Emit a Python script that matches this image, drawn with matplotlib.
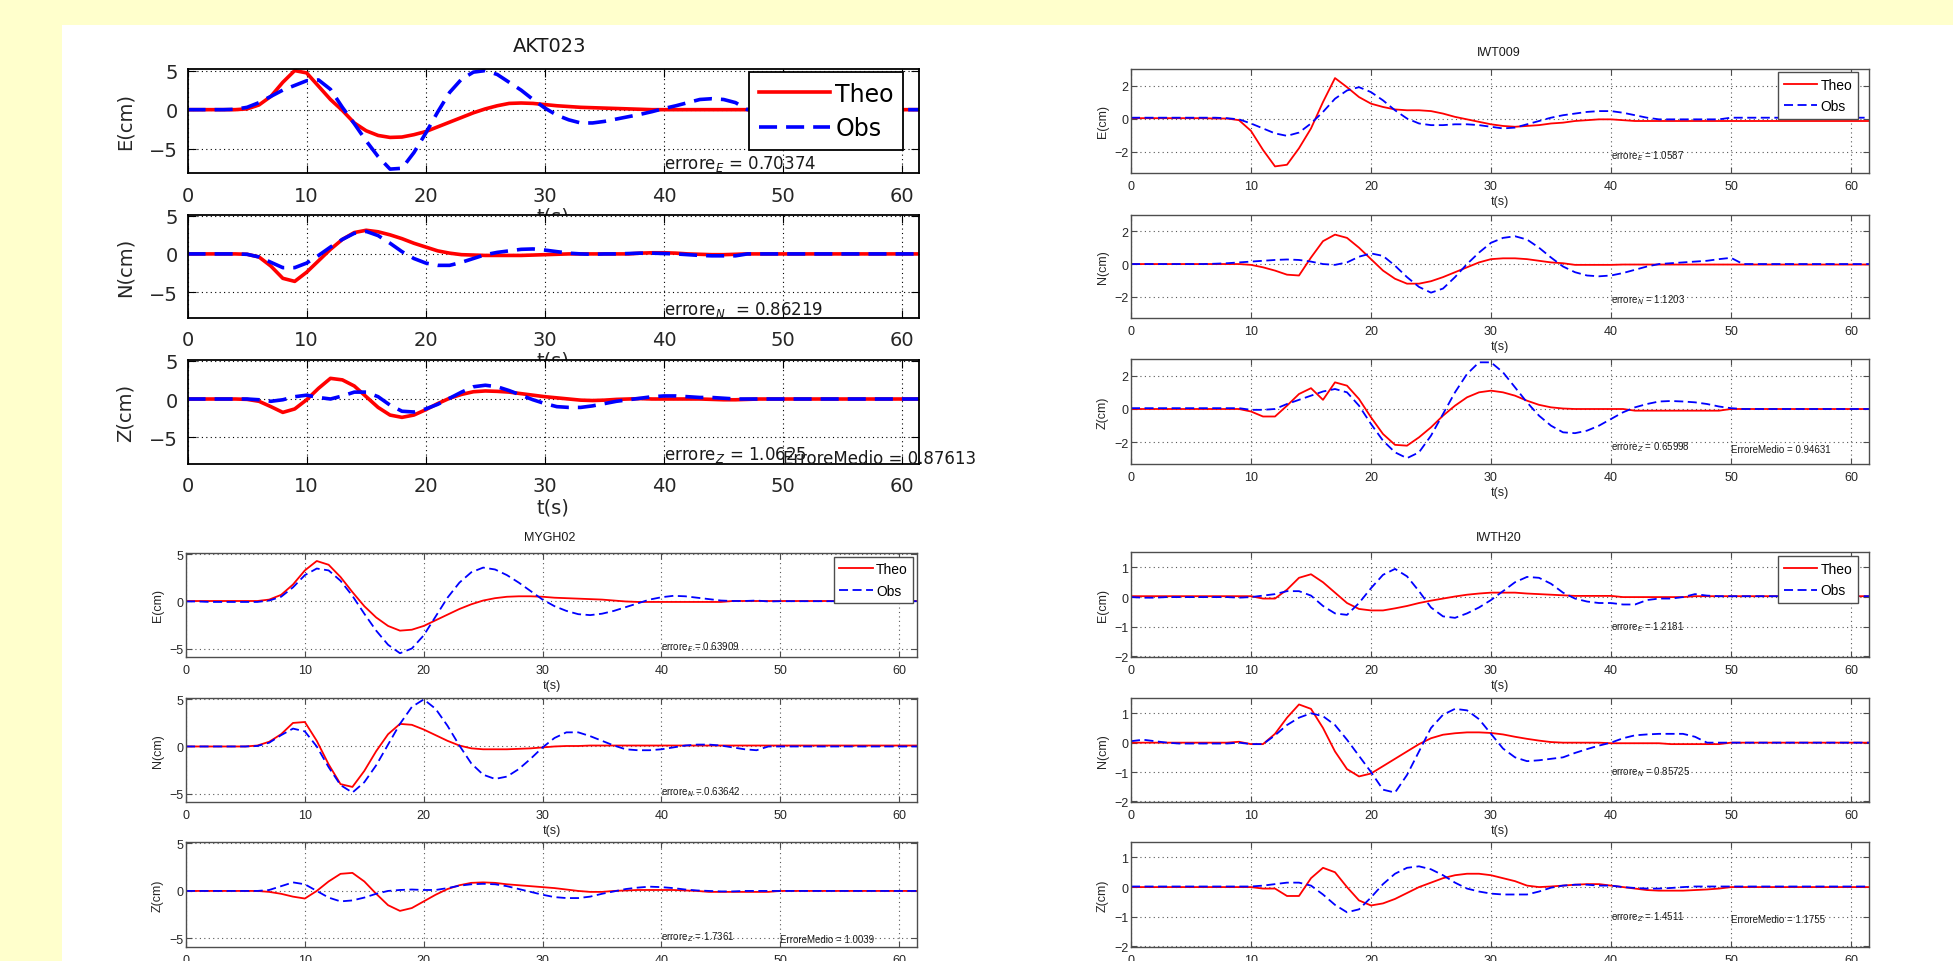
import numpy as np
import matplotlib.pyplot as plt
from matplotlib.patches import Rectangle

# time axis, one sample per second
t = np.arange(0, 63)

# ---- AKT023 ----
akt_e_theo = [0, 0, 0, 0, 0, 0.1, 0.6, 1.7, 3.5, 5.0,
              4.7, 3.0, 1.3, -0.1, -1.7, -2.7, -3.3, -3.55, -3.5, -3.2,
              -2.8, -2.2, -1.6, -1.0, -0.4, 0.1, 0.5, 0.8, 0.85, 0.8,
              0.65, 0.5, 0.4, 0.3, 0.25, 0.2, 0.15, 0.1, 0.05, 0] + [0] * 23
akt_e_obs = [0, 0, 0, 0, 0.05, 0.3, 0.9, 1.7, 2.5, 3.1,
             3.7, 3.8, 2.6, 0.3, -1.8, -4.0, -6.0, -7.6, -7.5, -5.5,
             -3.0, -0.3, 2.2, 3.9, 4.8, 5.0, 4.5, 3.5, 2.5, 1.3,
             0.2, -0.7, -1.3, -1.7, -1.7, -1.5, -1.2, -0.9, -0.6, -0.25,
             0.15, 0.5, 0.9, 1.3, 1.4, 1.3, 0.9, 0, 0, 0] + [0] * 13
akt_n_theo = [0, 0, 0, 0, 0, -0.05, -0.4, -1.6, -3.2, -3.6,
              -2.4, -0.9, 0.6, 1.9, 2.8, 3.1, 2.9, 2.5, 2.0, 1.4,
              0.9, 0.4, 0.1, -0.1, -0.15, -0.2, -0.2, -0.2, -0.2, -0.15,
              -0.1, -0.05, 0, 0, 0, 0, 0, 0, 0.1, 0.15,
              0.15, 0.1, 0, -0.05, -0.1, -0.1, -0.05, 0, 0, 0] + [0] * 13
akt_n_obs = [0, 0, 0, 0, 0, -0.05, -0.4, -1.1, -1.8, -1.8,
             -1.2, -0.2, 0.9, 1.9, 2.7, 2.95, 2.4, 1.4, 0.3, -0.6,
             -1.2, -1.5, -1.5, -1.1, -0.6, -0.1, 0.2, 0.4, 0.6, 0.65,
             0.5, 0.3, 0.1, 0, -0.05, 0, 0, 0.05, 0.1, 0.1,
             0.05, 0, -0.1, -0.2, -0.25, -0.25, -0.25, 0, 0, 0] + [0] * 13
akt_z_theo = [0, 0, 0, 0, 0, -0.05, -0.3, -1.0, -1.75, -1.3,
              -0.1, 1.4, 2.7, 2.5, 1.7, 0.3, -1.1, -2.1, -2.4, -2.1,
              -1.4, -0.6, 0.1, 0.6, 0.95, 1.05, 1.0, 0.9, 0.7, 0.5,
              0.3, 0.15, 0, -0.15, -0.2, -0.15, -0.05, 0, 0.05, 0,
              0, 0, 0, 0, -0.05, -0.1, -0.1, -0.05, 0, 0] + [0] * 13
akt_z_obs = [0, 0, 0, 0, 0, 0, -0.1, -0.3, -0.1, 0.3,
             0.5, 0.2, 0.0, 0.4, 0.9, 0.9, 0.3, -0.8, -1.6, -1.7,
             -1.3, -0.7, 0.1, 0.9, 1.6, 1.8, 1.6, 1.1, 0.5, -0.1,
             -0.6, -1.0, -1.1, -1.1, -0.9, -0.6, -0.3, -0.1, 0.1, 0.3,
             0.4, 0.4, 0.3, 0.2, 0.2, 0.1, 0, 0, 0, 0] + [0] * 13

# ---- IWT009 ----
iwt_e_theo = [0.02, 0.02, 0.02, 0.02, 0.02, 0.02, 0.02, 0.0, 0.0, -0.1,
              -0.75, -1.9, -2.9, -2.8, -1.8, -0.6, 1.0, 2.45, 1.9, 1.3,
              0.9, 0.7, 0.55, 0.5, 0.5, 0.45, 0.3, 0.1, -0.05, -0.2,
              -0.35, -0.45, -0.5, -0.45, -0.4, -0.3, -0.25, -0.15, -0.1, -0.05,
              -0.05, -0.1, -0.15, -0.15, -0.15, -0.15, -0.15, -0.15, -0.15, -0.15] + [-0.15] * 13
iwt_e_obs = [0.05, 0.05, 0.05, 0.05, 0.05, 0.05, 0.05, 0.05, 0.02, -0.05,
             -0.3, -0.6, -0.9, -1.05, -0.85, -0.3, 0.4, 1.2, 1.7, 1.9,
             1.6, 1.1, 0.5, 0.0, -0.3, -0.4, -0.4, -0.35, -0.35, -0.4,
             -0.5, -0.6, -0.55, -0.35, -0.15, 0.05, 0.2, 0.3, 0.4, 0.45,
             0.45, 0.35, 0.2, 0.05, -0.05, -0.05, -0.05, -0.05, -0.05, -0.05] + [0.05] * 13
iwt_n_theo = [0, 0, 0, 0, 0, 0, 0, 0, 0, 0,
              -0.05, -0.2, -0.4, -0.65, -0.7, 0.4, 1.4, 1.8, 1.6, 1.0,
              0.3, -0.4, -0.9, -1.2, -1.2, -1.05, -0.8, -0.5, -0.2, 0.1,
              0.3, 0.35, 0.35, 0.3, 0.2, 0.1, 0.05, -0.05, -0.05, -0.05,
              -0.05, -0.03, -0.03, -0.03, -0.03, -0.03, -0.03, -0.03, -0.03, -0.03] + [-0.03] * 13
iwt_n_obs = [0, 0, 0, 0, 0, 0, 0, 0.02, 0.05, 0.1,
             0.15, 0.2, 0.25, 0.28, 0.25, 0.15, 0.0, -0.05, 0.1, 0.45,
             0.65, 0.5, -0.1, -0.8, -1.4, -1.75, -1.5, -0.8, 0.0, 0.7,
             1.3, 1.6, 1.7, 1.5, 1.0, 0.4, -0.15, -0.5, -0.7, -0.75,
             -0.7, -0.55, -0.35, -0.15, 0.0, 0.05, 0.1, 0.15, 0.2, 0.3,
             0.38] + [0] * 12
iwt_z_theo = [0, 0, 0, 0, 0, 0, 0, 0, 0, 0,
              -0.15, -0.45, -0.45, 0.2, 0.9, 1.25, 0.55, 1.6, 1.4, 0.6,
              -0.5, -1.5, -2.15, -2.2, -1.7, -1.1, -0.4, 0.2, 0.7, 1.0,
              1.1, 1.0, 0.8, 0.5, 0.25, 0.1, 0.03, 0, 0, 0,
              0, 0, -0.1, -0.1, -0.1, -0.1, -0.1, -0.1, -0.1, -0.1] + [0] * 13
iwt_z_obs = [0.05, 0.05, 0.05, 0.05, 0.05, 0.05, 0.05, 0.05, 0.05, 0.05,
             -0.05, -0.05, 0.0, 0.3, 0.55, 0.8, 1.05, 1.2, 1.0, 0.2,
             -0.9, -1.9, -2.6, -2.95, -2.6, -1.6, -0.3, 1.0, 2.1, 2.8,
             2.8, 2.2, 1.3, 0.4, -0.4, -1.0, -1.4, -1.45, -1.3, -1.0,
             -0.6, -0.2, 0.1, 0.3, 0.45, 0.48, 0.45, 0.4, 0.3, 0.15,
             0.05] + [0] * 12

# ---- MYGH02 ----
myg_e_theo = [0.05, 0.05, 0.05, 0.05, 0.05, 0.05, 0.05, 0.2, 0.7, 1.8,
              3.3, 4.3, 3.9, 2.6, 1.0, -0.5, -1.7, -2.6, -3.1, -3.0,
              -2.6, -2.0, -1.4, -0.8, -0.3, 0.1, 0.35, 0.5, 0.55, 0.55,
              0.5, 0.4, 0.35, 0.3, 0.25, 0.2, 0.1, 0.0, -0.05, -0.05,
              -0.05, -0.05, -0.05, -0.05, -0.05, -0.05, 0.05, 0.05, 0.05, 0.05] + [0.05] * 13
myg_e_obs = [0, 0, -0.05, -0.05, -0.05, -0.05, -0.05, 0.1, 0.5, 1.5,
             2.8, 3.5, 3.3, 2.2, 0.6, -1.3, -3.1, -4.6, -5.5, -5.0,
             -3.6, -1.6, 0.4, 2.0, 3.1, 3.6, 3.4, 2.8, 2.0, 1.1,
             0.2, -0.5, -1.0, -1.35, -1.45, -1.3, -1.0, -0.6, -0.2, 0.2,
             0.45, 0.6, 0.55, 0.4, 0.25, 0.1, 0.05, 0.05, 0.1, 0.0] + [0.03] * 13
myg_n_theo = [0, 0, 0, 0, 0, 0, 0.1, 0.5, 1.3, 2.5,
              2.6, 0.6, -1.9, -4.0, -4.3, -2.6, -0.5, 1.3, 2.4, 2.3,
              1.8, 1.2, 0.6, 0.1, -0.2, -0.3, -0.3, -0.3, -0.25, -0.2,
              -0.1, 0, 0.05, 0.05, 0.1, 0.1, 0.1, 0.1, 0.1, 0.1] + [0.1] * 23
myg_n_obs = [0, 0, 0, 0, 0, 0, 0.05, 0.4, 1.2, 1.9,
             1.6, 0.0, -2.2, -4.1, -4.9, -3.8, -2.0, 0.2, 2.4, 4.2,
             5.0, 4.0, 2.2, 0.1, -1.8, -3.0, -3.45, -3.2, -2.4, -1.3,
             -0.1, 0.9, 1.5, 1.5, 1.1, 0.6, 0.1, -0.3, -0.4, -0.4,
             -0.3, -0.1, 0.1, 0.2, 0.2, 0.1, -0.1, -0.3, -0.4, 0.0] + [0] * 13
myg_z_theo = [0, 0, 0, 0, 0, 0, 0, -0.1, -0.3, -0.6,
              -0.8, 0.0, 1.0, 1.8, 1.9, 1.0, -0.3, -1.5, -2.1, -1.8,
              -1.1, -0.4, 0.2, 0.6, 0.85, 0.9, 0.85, 0.7, 0.6, 0.5,
              0.4, 0.3, 0.15, 0.0, -0.1, -0.1, 0.0, 0.05, 0.1, 0.1,
              0.1, 0.1, 0.05, 0, -0.1, -0.1, -0.1, -0.1, -0.1, -0.1] + [0] * 13
myg_z_obs = [0, 0, 0, 0, 0, 0, 0, 0.1, 0.5, 0.9,
             0.7, 0.0, -0.7, -1.1, -1.0, -0.7, -0.3, 0.0, 0.1, 0.15,
             0.1, 0.1, 0.3, 0.55, 0.7, 0.75, 0.7, 0.5, 0.2, -0.1,
             -0.4, -0.65, -0.75, -0.75, -0.6, -0.3, -0.05, 0.2, 0.35, 0.45,
             0.4, 0.3, 0.15, 0.05, 0.0, -0.05, -0.05, 0, 0, 0] + [0] * 13

# ---- IWTH20 ----
iwth_e_theo = [0.03, 0.03, 0.03, 0.03, 0.03, 0.03, 0.03, 0.03, 0.03, 0.03,
               0.03, -0.05, -0.05, 0.25, 0.65, 0.77, 0.5, 0.15, -0.2, -0.4,
               -0.45, -0.45, -0.38, -0.3, -0.2, -0.12, -0.05, 0.02, 0.08, 0.12,
               0.15, 0.15, 0.15, 0.12, 0.1, 0.08, 0.06, 0.04, 0.04, 0.04,
               0.04, 0, 0, 0, 0, 0, 0, 0.03, 0.03, 0.03] + [0.03] * 13
iwth_e_obs = [0.0, -0.02, -0.02, 0.0, 0.0, 0.0, 0.0, 0.0, 0.0, -0.02,
              0.0, 0.05, 0.1, 0.2, 0.2, 0.05, -0.3, -0.55, -0.6, -0.2,
              0.3, 0.75, 0.95, 0.7, 0.2, -0.35, -0.65, -0.7, -0.55, -0.35,
              -0.1, 0.2, 0.5, 0.68, 0.65, 0.45, 0.15, -0.05, -0.15, -0.2,
              -0.2, -0.25, -0.25, -0.1, -0.05, -0.05, 0.0, 0.1, 0.05, 0.03] + [0.03] * 13
iwth_n_theo = [0, 0, 0, 0, 0, 0, 0, 0, 0, 0.03,
               -0.05, -0.05, 0.3, 0.85, 1.3, 1.15, 0.5, -0.3, -0.9, -1.15,
               -1.05, -0.8, -0.55, -0.3, -0.05, 0.15, 0.27, 0.32, 0.35, 0.35,
               0.33, 0.28, 0.2, 0.13, 0.07, 0.02, 0, 0, 0, 0,
               -0.02, -0.02, -0.02, -0.02, -0.02, -0.05, -0.05, -0.05, -0.05, -0.05] + [0] * 13
iwth_n_obs = [0.05, 0.1, 0.05, 0.0, -0.03, -0.03, -0.03, -0.03, -0.03, 0.0,
              -0.05, -0.05, 0.25, 0.6, 0.85, 1.0, 0.9, 0.6, 0.1, -0.45,
              -1.0, -1.6, -1.7, -1.1, -0.3, 0.5, 0.95, 1.15, 1.1, 0.8,
              0.3, -0.2, -0.5, -0.63, -0.6, -0.55, -0.5, -0.35, -0.22, -0.1,
              0.0, 0.15, 0.25, 0.28, 0.3, 0.3, 0.3, 0.2, 0.0, 0.0] + [0] * 13
iwth_z_theo = [0, 0, 0, 0, 0, 0, 0, 0, 0, 0,
               0, -0.05, -0.05, -0.3, -0.3, 0.3, 0.65, 0.5, 0.0, -0.45,
               -0.62, -0.55, -0.4, -0.2, 0.0, 0.15, 0.3, 0.4, 0.45, 0.45,
               0.4, 0.3, 0.2, 0.05, 0.0, 0.02, 0.05, 0.08, 0.1, 0.1,
               0.05, 0.0, -0.05, -0.1, -0.12, -0.12, -0.12, -0.1, -0.08, -0.05] + [0] * 13
iwth_z_obs = [0.02, 0.02, 0.02, 0.02, 0.02, 0.02, 0.02, 0.02, 0.02, 0.02,
              0.02, 0.05, 0.1, 0.15, 0.15, 0.05, -0.25, -0.6, -0.85, -0.75,
              -0.35, 0.1, 0.45, 0.65, 0.7, 0.6, 0.4, 0.15, -0.05, -0.15,
              -0.22, -0.25, -0.25, -0.25, -0.15, -0.02, 0.05, 0.08, 0.08, 0.05,
              0.05, 0.0, -0.03, -0.05, -0.05, -0.03, 0.0, 0.02, 0.02, 0.02] + [0.02] * 13

comp_labels = ['E(cm)', 'N(cm)', 'Z(cm)']
akt_err = ['errore$_E$ = 0.70374', 'errore$_N$  = 0.86219', 'errore$_Z$ = 1.0625']
iwt_err = ['errore$_E$ = 1.0587', 'errore$_N$ = 1.1203', 'errore$_Z$ = 0.65998']
myg_err = ['errore$_E$ = 0.63909', 'errore$_N$ = 0.63642', 'errore$_Z$ = 1.7361']
iwth_err = ['errore$_E$ = 1.2181', 'errore$_N$ = 0.85725', 'errore$_Z$ = 1.4511']

W, H = 1953, 962
fig = plt.figure(figsize=(W / 100, H / 100), dpi=100, facecolor='#FFFFCC')
fig.add_artist(Rectangle((62 / W, 0), 1, 1 - 26 / H, transform=fig.transFigure,
                         facecolor='white', edgecolor='none', zorder=0))

narrow = ['Liberation Sans Narrow', 'Liberation Sans', 'DejaVu Sans']
big = dict(font=['DejaVu Sans'], tick=14, lab=14, title=14, leg=17, txt=12, lw=2.6,
           edge='black', grid='black', tlen=6, xpad=9, ypad=7, ylab_x=-0.072, xlab_y=-0.41,
           hl=3.0, spine=1.3, lsp=0.45)
small = dict(font=narrow, tick=9, lab=9, title=9, leg=10, txt=7, lw=1.3,
             edge='0.3', grid='0.35', tlen=4, xpad=5, ypad=2, ylab_x=-0.03, xlab_y=-0.27,
             hl=2.4, spine=1.0, lsp=0.55)


def draw_station(left, right, tops, bottoms, title, title_xy, theo, obs, errs, medio,
                 ylims, yticks, xmax, err_y, medio_y, leg_xy, st):
    fig.text(title_xy[0] / W, 1 - title_xy[1] / H, title, ha='center', va='center',
             fontsize=st['title'], family=st['font'], color='0.1')
    for i in range(3):
        ax = fig.add_axes([left / W, 1 - bottoms[i] / H, (right - left) / W,
                           (bottoms[i] - tops[i]) / H])
        ax.plot(t, theo[i], color='red', lw=st['lw'], label='Theo')
        ax.plot(t, obs[i], color='blue', lw=st['lw'], dashes=(5, 2.5), label='Obs')
        ax.set_xlim(0, xmax)
        ax.set_ylim(*ylims[i])
        ax.set_xticks(range(0, 61, 10))
        ax.set_yticks(yticks)
        ax.grid(True, color=st['grid'], linestyle=(0, (1, 3)), lw=0.8)
        ax.tick_params(direction='in', top=True, right=True, length=st['tlen'],
                       labelsize=st['tick'], colors=st['edge'], labelcolor='0.15')
        ax.tick_params(axis='x', pad=st['xpad'])
        ax.tick_params(axis='y', pad=st['ypad'])
        for lab in ax.get_xticklabels() + ax.get_yticklabels():
            lab.set_family(st['font'])
        for sp in ax.spines.values():
            sp.set_color(st['edge'])
            sp.set_linewidth(st['spine'])
        ax.set_ylabel(comp_labels[i], fontsize=st['lab'], family=st['font'], color='0.15')
        ax.yaxis.set_label_coords(st['ylab_x'], 0.5)
        ax.set_xlabel('t(s)', fontsize=st['lab'], family=st['font'], color='0.15', va='center')
        ax.xaxis.set_label_coords(0.5, st['xlab_y'])
        ax.text(40, err_y[i], errs[i], fontsize=st['txt'], family=st['font'], va='center',
                color='0.1')
        if i == 2:
            ax.text(50, medio_y, 'ErroreMedio = ' + medio, fontsize=st['txt'],
                    family=st['font'], va='center', color='0.1', clip_on=False)
        if i == 0:
            leg = ax.legend(loc='upper left', bbox_to_anchor=leg_xy, borderaxespad=0,
                            fancybox=False, framealpha=1, edgecolor=st['edge'],
                            prop={'family': st['font'], 'size': st['leg']},
                            handlelength=st['hl'], handletextpad=0.25,
                            labelspacing=st['lsp'], borderpad=0.4)
            leg.get_frame().set_linewidth(st['spine'])


draw_station(187.5, 919, [70, 216, 361], [174, 319, 465], 'AKT023', (550, 46),
             [akt_e_theo, akt_n_theo, akt_z_theo], [akt_e_obs, akt_n_obs, akt_z_obs],
             akt_err, '0.87613', [(-8.1, 5.2), (-8.4, 5.1), (-8.5, 5.1)], [-5, 0, 5], 61.4,
             [-6.8, -7.2, -7.2], -7.7, (0.768, 0.97), big)
draw_station(1131, 1869, [70, 216, 360], [174, 319, 465], 'IWT009', (1499, 53),
             [iwt_e_theo, iwt_n_theo, iwt_z_theo], [iwt_e_obs, iwt_n_obs, iwt_z_obs],
             iwt_err, '0.94631', [(-3.3, 3.0)] * 3, [-2, 0, 2], 61.5,
             [-2.2, -2.15, -2.25], -2.4, (0.877, 0.97), small)
draw_station(186, 917, [554, 699, 843], [658, 803, 948], 'MYGH02', (550, 538),
             [myg_e_theo, myg_n_theo, myg_z_theo], [myg_e_obs, myg_n_obs, myg_z_obs],
             myg_err, '1.0039', [(-5.9, 5.15)] * 3, [-5, 0, 5], 61.5,
             [-4.7, -4.77, -4.8], -5.1, (0.886, 0.965), small)
draw_station(1131, 1869, [553, 699, 843], [658, 803, 948], 'IWTH20', (1499, 538),
             [iwth_e_theo, iwth_n_theo, iwth_z_theo], [iwth_e_obs, iwth_n_obs, iwth_z_obs],
             iwth_err, '1.1755', [(-2.02, 1.52)] * 3, [-2, -1, 0, 1], 61.5,
             [-0.99, -0.97, -0.98], -1.07, (0.877, 0.96), small)

fig.savefig('out.png', dpi=100, facecolor=fig.get_facecolor())
